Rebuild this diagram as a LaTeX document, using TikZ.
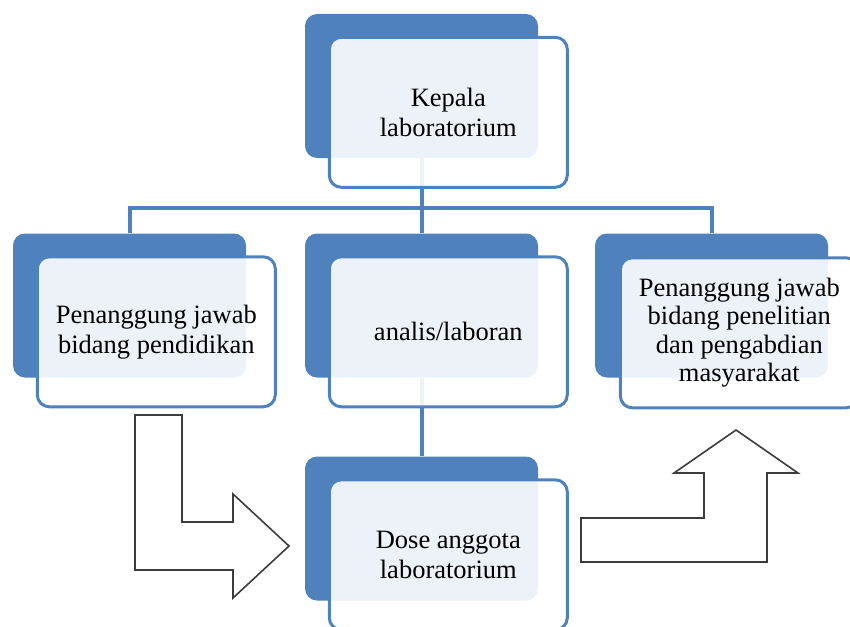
\documentclass[tikz,border=0pt]{standalone}
\usepackage{fontspec}
\setmainfont{Liberation Serif}
\usepackage{xcolor}
\usepackage{tikz}
\usetikzlibrary{positioning, calc}

\definecolor{boxblue}{RGB}{79,129,189}
\definecolor{arrgray}{RGB}{60,60,60}

\begin{document}
\begin{tikzpicture}[
    x=1pt, y=-1pt,
    bg/.style={fill=boxblue, rounded corners=12pt, minimum width=233pt, minimum height=144pt,
               inner sep=0pt},
    box/.style={draw=boxblue, line width=3pt, rounded corners=12pt, fill=white, fill opacity=0.9,
                text opacity=1, minimum width=238pt, minimum height=150pt, inner sep=0pt,
                align=center, font=\fontsize{26.5}{30}\selectfont},
    link/.style={draw=boxblue, line width=4pt},
    blk/.style={draw=arrgray, line width=1.6pt, fill=white, line join=miter}
]
\useasboundingbox (0,0) rectangle (850,626);

% Back plates
\node[bg] (kepbg) at (421.5, 86) {};
\node[bg] (pendbg) at (129.5, 305.5) {};
\node[bg] (anabg) at (421.5, 305.5) {};
\node[bg] (penbg) at (711.5, 305.5) {};
\node[bg] (dosebg) at (421.5, 528.5) {};

% Tree lines
\draw[link] (kepbg.south) -- ++(0,50) coordinate (bar);
\draw[link] (pendbg.north) |- (bar) -| (penbg.north);
\draw[link] (bar) -- (anabg.north);
\draw[link] (anabg.south) -- (dosebg.north);

% Front boxes
\node[box, anchor=north west] (kep) at ($(kepbg.north west)+(23,22)$) {Kepala\\laboratorium};
\node[box, anchor=north west] (pend) at ($(pendbg.north west)+(23,22)$) {Penanggung jawab\\bidang pendidikan};
\node[box, anchor=north west] (ana) at ($(anabg.north west)+(23,22)$) {analis/laboran};
\node[box, anchor=north west, font=\fontsize{26.5}{28.5}\selectfont] (pen) at ($(penbg.north west)+(24,23)$)
    {Penanggung jawab\\bidang penelitian\\dan pengabdian\\masyarakat};
\node[box, anchor=north west] (dose) at ($(dosebg.north west)+(23,22)$) {Dose anggota\\laboratorium};

% Bent arrows
\draw[blk] (135,415) -- (182,415) -- (182,522) -- (233,522) -- (233,494) -- (289,546)
    -- (233,598) -- (233,570) -- (135,570) -- cycle;
\draw[blk] (581,518) -- (704,518) -- (704,473) -- (674,473) -- (736,430) -- (798,473)
    -- (767,473) -- (767,562) -- (581,562) -- cycle;
\end{tikzpicture}
\end{document}
